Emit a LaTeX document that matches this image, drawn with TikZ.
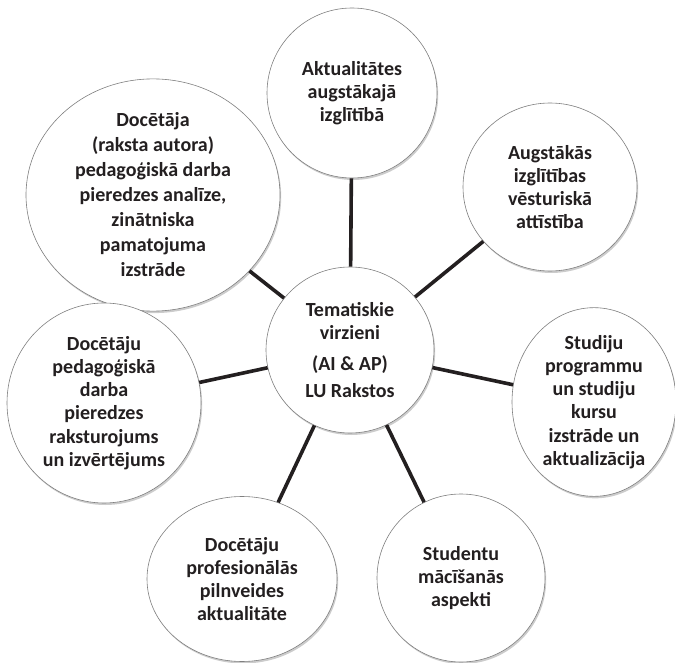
\documentclass[tikz,border=0pt]{standalone}
\usepackage{fontspec}
\setmainfont{Carlito}
\usetikzlibrary{shapes.geometric,shadows}
\definecolor{txt}{HTML}{231F20}
\definecolor{rim}{HTML}{7F7F7F}
\tikzset{
  bub/.style={ellipse, draw=rim, line width=0.6pt, fill=white, inner sep=0pt,
    align=center, text=txt, font=\fontsize{20}{23.2}\selectfont\bfseries,
    drop shadow={shadow xshift=1.2pt, shadow yshift=-2pt, fill=black, opacity=0.2}},
  spoke/.style={draw=txt, line width=3.6pt}
}
\begin{document}
\begin{tikzpicture}[x=1pt,y=-1pt]
\useasboundingbox (0,0) rectangle (675,663);
\node[bub, minimum width=168pt, minimum height=166pt] (c) at (350,350)
  {Tematiskie\\virzieni\\[7pt](AI \& AP)\\[4pt]LU Rakstos};
\node[bub, minimum width=170pt, minimum height=170pt] (t) at (352,93)
  {Aktualitātes\\augstākajā\\izglītībā};
\node[bub, minimum width=254pt, minimum height=196pt,
      font=\fontsize{20}{25}\selectfont\bfseries] (tl) at (153,195)
  {Docētāja\\(raksta autora)\\pedagoģiskā darba\\pieredzes analīze,\\zinātniska\\pamatojuma\\izstrāde};
\node[bub, minimum width=174pt, minimum height=168pt] (tr) at (550,187)
  {Augstākās\\izglītības\\vēsturiskā\\attīstība};
\node[bub, minimum width=194pt, minimum height=200pt] (l) at (104,403)
  {Docētāju\\pedagoģiskā\\darba\\pieredzes\\raksturojums\\un izvērtējums};
\node[bub, minimum width=164pt, minimum height=168pt] (r) at (594,402)
  {Studiju\\programmu\\un studiju\\kursu\\izstrāde un\\aktualizācija};
\node[bub, minimum width=190pt, minimum height=165pt] (bl) at (242,579)
  {Docētāju\\profesionālās\\pilnveides\\aktualitāte};
\node[bub, minimum width=168pt, minimum height=168pt] (br) at (461,578)
  {Studentu\\mācīšanās\\aspekti};
\foreach \n in {t,tl,tr,l,r,bl,br}
  \draw[spoke] (c) -- (\n);
\end{tikzpicture}
\end{document}
